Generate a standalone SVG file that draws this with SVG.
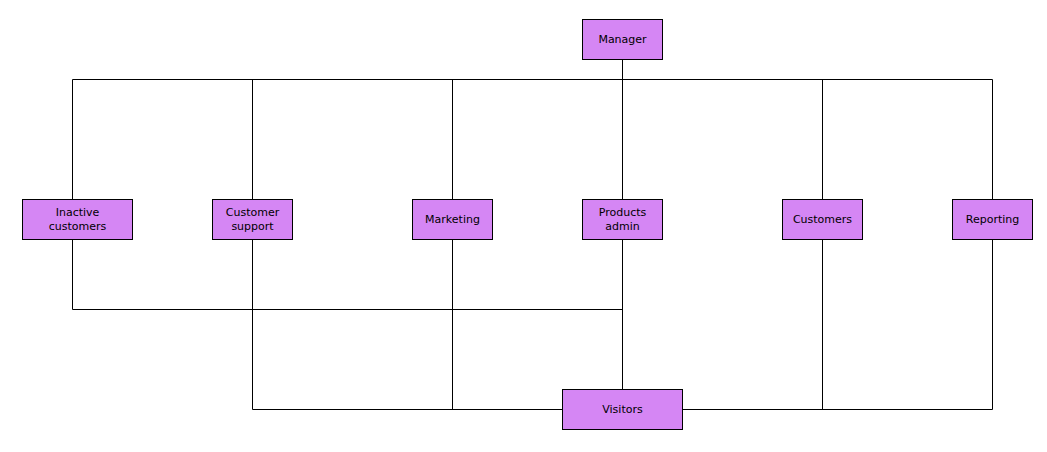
<svg xmlns="http://www.w3.org/2000/svg" width="1047" height="452" viewBox="0 0 1047 452">
<style>
.n rect{fill:#d586f4;stroke:#000;stroke-width:1}
.n text{font-family:"DejaVu Sans",sans-serif;font-size:11px;fill:#000;text-anchor:middle}
.c path{fill:none;stroke:#000;stroke-width:1}
</style>
<rect width="1047" height="452" fill="#fff"/>
<g class="c">
<path d="M622.5 59.5V199.5"/>
<path d="M72.5 79.5H992.5"/>
<path d="M72.5 79.5V199.5M252.5 79.5V199.5M452.5 79.5V199.5M822.5 79.5V199.5M992.5 79.5V199.5"/>
<path d="M72.5 239.5V309.5H622.5"/>
<path d="M622.5 239.5V389.5"/>
<path d="M252.5 239.5V409.5H562.5"/>
<path d="M452.5 239.5V409.5"/>
<path d="M682.5 409.5H992.5V239.5"/>
<path d="M822.5 239.5V409.5"/>
</g>
<g id="manager" class="n"><rect x="582.5" y="19.5" width="80" height="40"/><text x="622.5" y="43">Manager</text></g>
<g id="inactive" class="n"><rect x="22.5" y="199.5" width="110" height="40"/><text x="77.5" y="216">Inactive</text><text x="77.5" y="230">customers</text></g>
<g id="support" class="n"><rect x="212.5" y="199.5" width="80" height="40"/><text x="252.5" y="216">Customer</text><text x="252.5" y="230">support</text></g>
<g id="marketing" class="n"><rect x="412.5" y="199.5" width="80" height="40"/><text x="452.5" y="223">Marketing</text></g>
<g id="products" class="n"><rect x="582.5" y="199.5" width="80" height="40"/><text x="622.5" y="216">Products</text><text x="622.5" y="230">admin</text></g>
<g id="customers" class="n"><rect x="782.5" y="199.5" width="80" height="40"/><text x="822.5" y="223">Customers</text></g>
<g id="reporting" class="n"><rect x="952.5" y="199.5" width="80" height="40"/><text x="992.5" y="223">Reporting</text></g>
<g id="visitors" class="n"><rect x="562.5" y="389.5" width="120" height="40"/><text x="622.5" y="413">Visitors</text></g>
</svg>
